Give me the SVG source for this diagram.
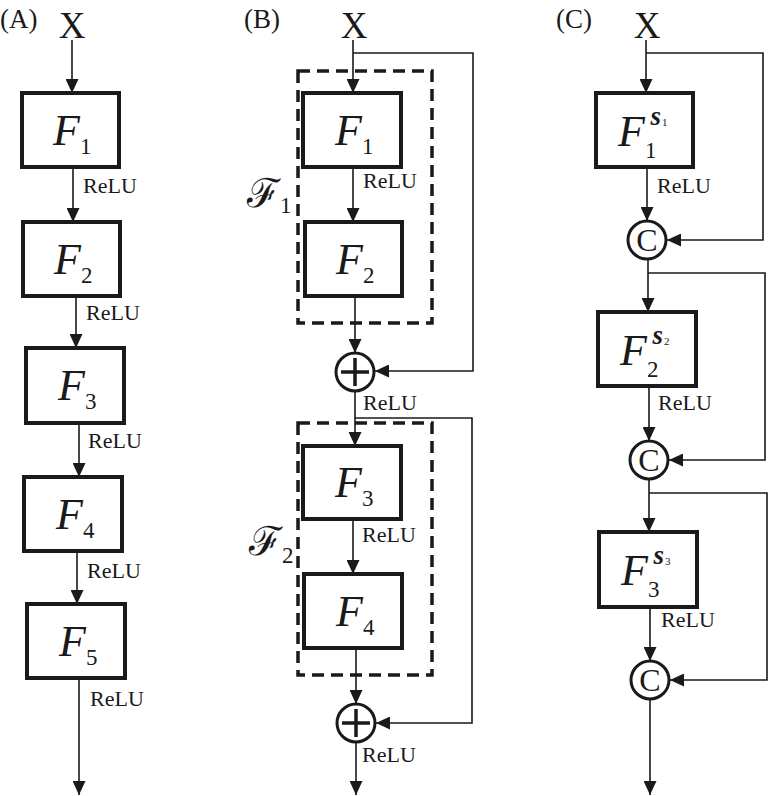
<svg xmlns="http://www.w3.org/2000/svg" width="768" height="796" viewBox="0 0 768 796">
<style>
text{font-family:"Liberation Serif","DejaVu Serif",serif;fill:#1a1a1a}
.box{fill:#fff;stroke:#1a1a1a;stroke-width:4}
.dash{fill:none;stroke:#1a1a1a;stroke-width:3.5;stroke-dasharray:12 7}
.ln{fill:none;stroke:#1a1a1a;stroke-width:1.6}
.arr{marker-end:url(#ah)}
.circ{fill:#fff;stroke:#1a1a1a;stroke-width:3}
.plus{stroke:#1a1a1a;stroke-width:3.5}
.relu{font-size:22px}
.panel{font-size:27px}
.x{font-size:37px;text-anchor:middle}
.fb{font-size:44px;font-style:italic}
.sub{font-size:23px;font-style:normal}
.sup{font-size:27px;font-style:italic;font-weight:bold}
.tiny{font-size:11px;font-style:normal;font-weight:normal}
.cal{font-size:40px}
.cc{font-size:32px;text-anchor:middle}
</style>
<defs>
<marker id="ah" markerUnits="userSpaceOnUse" markerWidth="15" markerHeight="13" refX="14" refY="6.5" orient="auto">
<path d="M0,0 L14,6.5 L0,13 z" fill="#1a1a1a"/>
</marker>
</defs>

<g id="labels">
<text class="panel" x="0" y="28">(A)</text>
<text class="panel" x="244" y="28">(B)</text>
<text class="panel" x="556" y="28">(C)</text>
<text class="x" x="72" y="38">X</text>
<text class="x" x="354" y="38">X</text>
<text class="x" x="647" y="38">X</text>
</g>

<g id="connectors">
<!-- A -->
<path class="ln arr" d="M72,40 V93"/>
<path class="ln arr" d="M73,167 V222"/>
<path class="ln arr" d="M76,296 V348"/>
<path class="ln arr" d="M79,423 V477"/>
<path class="ln arr" d="M77,551 V604"/>
<path class="ln arr" d="M79,678 V795"/>
<!-- B -->
<path class="ln arr" d="M353,40 V93"/>
<path class="ln arr" d="M353,53 H473 V371 H375"/>
<path class="ln arr" d="M353,167 V222"/>
<path class="ln arr" d="M355,296 V353"/>
<path class="ln arr" d="M355,391 V446"/>
<path class="ln arr" d="M355,418 H472 V723 H376"/>
<path class="ln arr" d="M353,519 V574"/>
<path class="ln arr" d="M356,648 V704"/>
<path class="ln arr" d="M356,742 V795"/>
<!-- C -->
<path class="ln arr" d="M646,40 V93"/>
<path class="ln arr" d="M646,53 H763 V240 H667"/>
<path class="ln arr" d="M647,167 V221"/>
<path class="ln arr" d="M648,259 V312"/>
<path class="ln arr" d="M648,273 H765 V460 H669"/>
<path class="ln arr" d="M649,386 V441"/>
<path class="ln arr" d="M649,479 V532"/>
<path class="ln arr" d="M649,493 H767 V680 H670"/>
<path class="ln arr" d="M650,607 V661"/>
<path class="ln arr" d="M650,699 V795"/>
</g>

<g id="relu-labels">
<text class="relu" x="83" y="193">ReLU</text>
<text class="relu" x="86" y="320">ReLU</text>
<text class="relu" x="88" y="448">ReLU</text>
<text class="relu" x="87" y="578">ReLU</text>
<text class="relu" x="90" y="706">ReLU</text>
<text class="relu" x="363" y="188">ReLU</text>
<text class="relu" x="363" y="410">ReLU</text>
<text class="relu" x="362" y="542">ReLU</text>
<text class="relu" x="362" y="762">ReLU</text>
<text class="relu" x="657" y="193">ReLU</text>
<text class="relu" x="658" y="410">ReLU</text>
<text class="relu" x="661" y="627">ReLU</text>
</g>

<!-- Panel A -->
<g id="A-F1"><rect class="box" x="22" y="93" width="97" height="74"/><text class="fb" x="53" y="145">F<tspan class="sub" dy="9">1</tspan></text></g>
<g id="A-F2"><rect class="box" x="23" y="222" width="97" height="74"/><text class="fb" x="54" y="274">F<tspan class="sub" dy="9">2</tspan></text></g>
<g id="A-F3"><rect class="box" x="26" y="348" width="98" height="75"/><text class="fb" x="58" y="400">F<tspan class="sub" dy="9">3</tspan></text></g>
<g id="A-F4"><rect class="box" x="24" y="477" width="98" height="74"/><text class="fb" x="56" y="529">F<tspan class="sub" dy="9">4</tspan></text></g>
<g id="A-F5"><rect class="box" x="27" y="604" width="98" height="74"/><text class="fb" x="59" y="656">F<tspan class="sub" dy="9">5</tspan></text></g>

<!-- Panel B -->
<g id="B-block1"><rect class="dash" x="298" y="71" width="134" height="252"/><text class="cal" x="247" y="207">ℱ<tspan class="sub" dy="6">1</tspan></text></g>
<g id="B-F1"><rect class="box" x="303" y="93" width="98" height="74"/><text class="fb" x="335" y="145">F<tspan class="sub" dy="9">1</tspan></text></g>
<g id="B-F2"><rect class="box" x="305" y="222" width="97" height="74"/><text class="fb" x="336" y="274">F<tspan class="sub" dy="9">2</tspan></text></g>
<g id="B-add1"><circle class="circ" cx="355" cy="372" r="19"/><path class="plus" d="M341,372 H369 M355,358 V386"/></g>
<g id="B-block2"><rect class="dash" x="298" y="423" width="134" height="252"/><text class="cal" x="249" y="555">ℱ<tspan class="sub" dy="8">2</tspan></text></g>
<g id="B-F3"><rect class="box" x="303" y="446" width="98" height="73"/><text class="fb" x="335" y="497">F<tspan class="sub" dy="9">3</tspan></text></g>
<g id="B-F4"><rect class="box" x="304" y="574" width="98" height="74"/><text class="fb" x="336" y="626">F<tspan class="sub" dy="9">4</tspan></text></g>
<g id="B-add2"><circle class="circ" cx="356" cy="723" r="19"/><path class="plus" d="M342,723 H370 M356,709 V737"/></g>

<!-- Panel C -->
<g id="C-F1"><rect class="box" x="596" y="93" width="97" height="74"/>
<text class="fb" x="618" y="146">F<tspan class="sub" dy="12">1</tspan><tspan class="sup" dx="-6" dy="-33">s</tspan><tspan class="tiny" dx="1" dy="1">1</tspan></text></g>
<g id="C-cat1"><circle class="circ" cx="647" cy="240" r="19"/><text class="cc" x="647" y="251">C</text></g>
<g id="C-F2"><rect class="box" x="598" y="312" width="98" height="74"/>
<text class="fb" x="620" y="365">F<tspan class="sub" dy="12">2</tspan><tspan class="sup" dx="-6" dy="-33">s</tspan><tspan class="tiny" dx="1" dy="1">2</tspan></text></g>
<g id="C-cat2"><circle class="circ" cx="649" cy="460" r="19"/><text class="cc" x="649" y="471">C</text></g>
<g id="C-F3"><rect class="box" x="599" y="532" width="98" height="75"/>
<text class="fb" x="621" y="585">F<tspan class="sub" dy="12">3</tspan><tspan class="sup" dx="-6" dy="-33">s</tspan><tspan class="tiny" dx="1" dy="1">3</tspan></text></g>
<g id="C-cat3"><circle class="circ" cx="650" cy="680" r="19"/><text class="cc" x="650" y="691">C</text></g>
</svg>
